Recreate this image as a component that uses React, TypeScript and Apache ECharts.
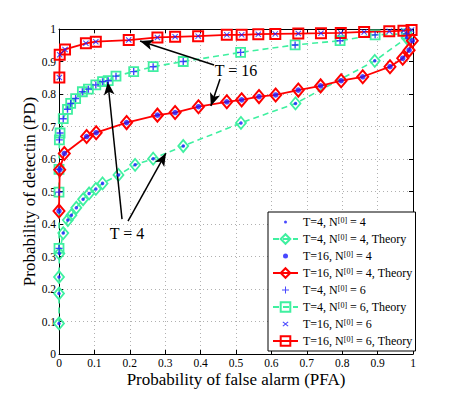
import React, { useEffect, useRef } from "react";
import * as echarts from "echarts";

// [PFA, PD]
const t4n4: number[][] = [
  [0.0, 0.094], [0.0, 0.186], [0.0, 0.237], [0.001, 0.309], [0.012, 0.372], [0.025, 0.412],
  [0.035, 0.427], [0.049, 0.45], [0.068, 0.476], [0.085, 0.494], [0.104, 0.508], [0.123, 0.525],
  [0.168, 0.551], [0.215, 0.582], [0.266, 0.601], [0.351, 0.64], [0.514, 0.711], [0.668, 0.771],
  [0.892, 0.902], [0.982, 0.973],
];
const t16n4: number[][] = [
  [0.0, 0.44], [0.002, 0.567], [0.015, 0.617], [0.078, 0.669], [0.105, 0.681], [0.191, 0.712],
  [0.278, 0.735], [0.328, 0.743], [0.394, 0.761], [0.474, 0.776], [0.516, 0.782], [0.565, 0.792],
  [0.612, 0.797], [0.676, 0.812], [0.739, 0.825], [0.797, 0.841], [0.858, 0.853], [0.935, 0.884],
  [0.971, 0.91], [0.989, 0.935], [0.998, 0.964],
];
const t4n6: number[][] = [
  [0.0, 0.325], [0.0, 0.498], [0.0, 0.568], [0.001, 0.659], [0.003, 0.68], [0.012, 0.724],
  [0.024, 0.753], [0.033, 0.771], [0.047, 0.786], [0.066, 0.807], [0.083, 0.815], [0.104, 0.828],
  [0.123, 0.838], [0.139, 0.841], [0.161, 0.855], [0.211, 0.869], [0.266, 0.884], [0.351, 0.9],
  [0.513, 0.928], [0.667, 0.951], [0.794, 0.964], [0.893, 0.982], [0.982, 0.985],
];
const t16n6: number[][] = [
  [0.001, 0.851], [0.002, 0.921], [0.017, 0.937], [0.076, 0.956], [0.104, 0.961], [0.197, 0.966],
  [0.278, 0.974], [0.328, 0.976], [0.393, 0.978], [0.474, 0.982], [0.516, 0.982], [0.563, 0.984],
  [0.611, 0.985], [0.676, 0.986], [0.74, 0.987], [0.796, 0.988], [0.862, 0.991], [0.933, 0.993],
  [0.973, 0.995], [0.996, 0.997],
];

const legendNames = [
  "T=4, N[0] = 4",
  "T=4, N[0] = 4, Theory",
  "T=16, N[0] = 4",
  "T=16, N[0] = 4, Theory",
  "T=4, N[0] = 6",
  "T=4, N[0] = 6, Theory",
  "T=16, N[0] = 6",
  "T=16, N[0] = 6, Theory",
];

// annotation arrows in data coords: [from, to]
const arrowsT16 = [
  [[0.438, 0.889], [0.229, 0.963]],
  [[0.455, 0.846], [0.429, 0.763]],
];
const arrowsT4 = [
  [[0.178, 0.415], [0.138, 0.837]],
  [[0.195, 0.409], [0.302, 0.618]],
];
const labelT16 = [0.5, 0.871];
const labelT4 = [0.192, 0.372];

const RED = "#ff0000";
const GREEN = "#3ff0a0";
const BLUE = "#1a1aff";
const FONT = "Liberation Serif";
const PLUS = "path://M4,0h2v4h4v2h-4v4h-2v-4h-4v-2h4z";
const CROSS = "path://M1.2,0L5,3.8L8.8,0L10,1.2L6.2,5L10,8.8L8.8,10L5,6.2L1.2,10L0,8.8L3.8,5L0,1.2z";
// legend icons: small glyph centred in a 25x12 box
const ICON_SMALL_DOT = "path://M0,0M25,12M11,6a1.5,1.5 0 1,0 3,0a1.5,1.5 0 1,0 -3,0z";
const ICON_BIG_DOT = "path://M0,0M25,12M10,6a2.5,2.5 0 1,0 5,0a2.5,2.5 0 1,0 -5,0z";
const ICON_PLUS = "path://M0,0M25,12M12,2.5h1v3h3v1h-3v3h-1v-3h-3v-1h3z";
const ICON_CROSS =
  "path://M0,0M25,12M10.2,3.5L12.5,5.3L14.8,3.5L15.5,4.2L13.2,6L15.5,7.8L14.8,8.5L12.5,6.7L10.2,8.5L9.5,7.8L11.8,6L9.5,4.2z";

export default function App() {
  const ref = useRef<HTMLDivElement>(null);
  useEffect(() => {
    if (!ref.current) return;
    const chart = echarts.init(ref.current, null, { renderer: "svg" });

    const arrowLine = (arrs: number[][][]) => ({
      silent: true,
      symbol: ["none", "arrow"],
      symbolSize: [8, 13],
      lineStyle: { color: "#000", width: 1.5, type: "solid" },
      label: { show: false },
      data: arrs.map((a) => [{ coord: a[0] }, { coord: a[1] }]),
    });
    const textPoint = (pos: number[], txt: string) => ({
      silent: true,
      symbol: "circle",
      symbolSize: 0,
      label: {
        show: true,
        position: "inside",
        formatter: txt,
        fontFamily: FONT,
        fontSize: 16,
        color: "#000",
      },
      data: [{ coord: pos }],
    });

    const axisCommon = {
      type: "value",
      min: 0,
      max: 1,
      interval: 0.1,
      axisLine: { show: true, onZero: false, lineStyle: { color: "#000", width: 1 } },
      axisTick: { show: true, inside: true, length: 4, lineStyle: { color: "#000" } },
    };

    const legendData = legendNames.map((n, i) => {
      const icons = [ICON_SMALL_DOT, null, ICON_BIG_DOT, null, ICON_PLUS, null, ICON_CROSS, null];
      return icons[i] ? { name: n, icon: icons[i] } : { name: n };
    });

    chart.setOption({
      animation: false,
      backgroundColor: "#fff",
      grid: { left: 59, right: 44, top: 29, bottom: 45, containLabel: false },
      xAxis: [
        {
          ...axisCommon,
          position: "bottom",
          name: "Probability of false alarm (PFA)",
          nameLocation: "middle",
          nameGap: 17,
          nameMoveOverlap: false,
          nameTextStyle: { fontFamily: FONT, fontSize: 17, color: "#000" },
          axisLabel: { fontFamily: FONT, fontSize: 11.5, color: "#000", margin: 3 },
          splitLine: { show: true, lineStyle: { type: [1, 3], color: "#b0b0b0" } },
        },
        {
          ...axisCommon,
          position: "top",
          axisLabel: { show: false },
          splitLine: { show: false },
        },
      ],
      yAxis: [
        {
          ...axisCommon,
          position: "left",
          name: "Probability of detectin (PD)",
          nameLocation: "middle",
          nameGap: 21,
          nameMoveOverlap: false,
          nameTextStyle: { fontFamily: FONT, fontSize: 17, color: "#000" },
          axisLabel: { fontFamily: FONT, fontSize: 11.5, color: "#000", margin: 3 },
          splitLine: { show: true, lineStyle: { type: [1, 3], color: "#b0b0b0" } },
        },
        {
          ...axisCommon,
          position: "right",
          axisLabel: { show: false },
          splitLine: { show: false },
        },
      ],
      legend: {
        data: legendData,
        orient: "vertical",
        left: 268,
        top: 212,
        itemWidth: 25,
        itemHeight: 12,
        itemGap: 5,
        padding: [4, 3, 4, 4],
        backgroundColor: "#fff",
        borderColor: "#000",
        borderWidth: 1,
        borderRadius: 0,
        formatter: (n: string) => n.replace("[0]", "{sup|[0]}"),
        textStyle: {
          fontFamily: FONT,
          fontSize: 12,
          color: "#000",
          lineHeight: 12,
          rich: {
            sup: { fontFamily: FONT, fontSize: 8, lineHeight: 8, verticalAlign: "top", color: "#000" },
          },
        },
      },
      series: [
        {
          name: legendNames[0],
          type: "scatter",
          z: 5,
          symbol: "circle",
          symbolSize: 3.5,
          itemStyle: { color: BLUE },
          data: t4n4,
        },
        {
          name: legendNames[1],
          type: "line",
          z: 2,
          symbol: "diamond",
          symbolSize: [10, 12],
          lineStyle: { color: GREEN, width: 1.6, type: [6, 4] },
          itemStyle: { color: "rgba(255,255,255,0)", borderColor: GREEN, borderWidth: 1.8 },
          data: t4n4,
          markLine: arrowLine(arrowsT4),
          markPoint: textPoint(labelT4, "T = 4"),
        },
        {
          name: legendNames[2],
          type: "scatter",
          z: 5,
          symbol: "circle",
          symbolSize: 5.5,
          itemStyle: { color: BLUE },
          data: t16n4,
        },
        {
          name: legendNames[3],
          type: "line",
          z: 3,
          symbol: "diamond",
          symbolSize: [11, 13],
          lineStyle: { color: RED, width: 1.8 },
          itemStyle: { color: "rgba(255,255,255,0)", borderColor: RED, borderWidth: 2 },
          data: t16n4,
        },
        {
          name: legendNames[4],
          type: "scatter",
          z: 5,
          symbol: PLUS,
          symbolSize: 7,
          itemStyle: { color: BLUE },
          data: t4n6,
        },
        {
          name: legendNames[5],
          type: "line",
          z: 2,
          symbol: "rect",
          symbolSize: 9,
          lineStyle: { color: GREEN, width: 1.6, type: [6, 4] },
          itemStyle: { color: "rgba(255,255,255,0)", borderColor: GREEN, borderWidth: 1.8 },
          data: t4n6,
        },
        {
          name: legendNames[6],
          type: "scatter",
          z: 5,
          symbol: CROSS,
          symbolSize: 6,
          itemStyle: { color: BLUE },
          data: t16n6,
        },
        {
          name: legendNames[7],
          type: "line",
          z: 3,
          symbol: "rect",
          symbolSize: 10,
          lineStyle: { color: RED, width: 1.8 },
          itemStyle: { color: "rgba(255,255,255,0)", borderColor: RED, borderWidth: 2 },
          data: t16n6,
          markLine: arrowLine(arrowsT16),
          markPoint: textPoint(labelT16, "T = 16"),
        },
      ],
    });
    return () => chart.dispose();
  }, []);
  return <div ref={ref} style={{ width: 457, height: 399, margin: -8 }} />;
}
